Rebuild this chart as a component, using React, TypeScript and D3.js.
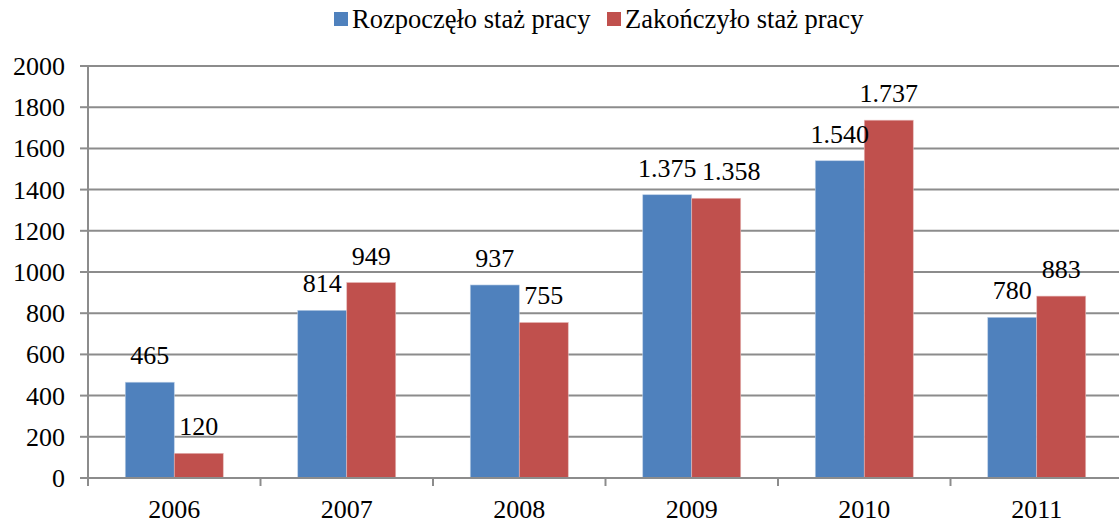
import React from 'react'
import * as d3 from 'd3'

const years = ['2006', '2007', '2008', '2009', '2010', '2011']
const started = [465, 814, 937, 1375, 1540, 780]
const finished = [120, 949, 755, 1358, 1737, 883]
const seriesNames = ['Rozpoczęło staż pracy', 'Zakończyło staż pracy']
const yTicks = [0, 200, 400, 600, 800, 1000, 1200, 1400, 1600, 1800, 2000]

const colors = ['#4F81BD', '#C0504D']
const edges = ['#b9cde5', '#e6b9b8']
const FONT = 'Liberation Serif'
const FS = 26
const GRID = '#8c8c8c'

export default function App() {
  const width = 1119
  const height = 523

  const left = 88
  const right = 1123
  const top = 66
  const bottom = 478

  const x = d3.scaleBand<string>()
    .domain(years)
    .range([left, right])
    .paddingInner(0.432)
    .paddingOuter(0.216)

  const x1 = d3.scaleBand<number>()
    .domain([0, 1])
    .range([0, x.bandwidth()])

  const y = d3.scaleLinear().domain([0, 2000]).range([bottom, top])

  const series = [started, finished]
  const step = x.step()

  // Polish thousands separator is a dot
  const fmt = (v: number) => v >= 1000 ? d3.format(',')(v).replace(',', '.') : String(v)
  // one label was nudged right in the original to avoid overlap
  const nudge: Record<string, number> = { '1-3': 15 }

  const legendX = [334, 607]

  return (
    <div style={{ position: 'absolute', top: 0, left: 0, background: '#fff' }}>
      <svg width={width} height={height} style={{ display: 'block' }}>
        {/* gridlines */}
        {yTicks.filter(d => d > 0).map(d => (
          <line key={`g${d}`} x1={left} x2={width} y1={y(d)} y2={y(d)} stroke={GRID} strokeWidth={2} />
        ))}

        {/* bars */}
        {series.map((vals, si) => vals.map((v, i) => (
          <rect
            key={`b${si}-${i}`}
            x={(x(years[i]) ?? 0) + (x1(si) ?? 0)}
            y={y(v)}
            width={x1.bandwidth()}
            height={bottom - y(v)}
            fill={colors[si]}
            stroke={edges[si]}
            strokeWidth={0.6}
          />
        )))}

        {/* y axis */}
        <line x1={left} x2={left} y1={top} y2={bottom} stroke={GRID} strokeWidth={2} />
        {yTicks.map(d => (
          <g key={`y${d}`}>
            <line x1={left - 8} x2={left} y1={y(d)} y2={y(d)} stroke={GRID} strokeWidth={2} />
            <text x={65} y={y(d) + 9} textAnchor="end" fontFamily={FONT} fontSize={FS} fill="#000">{d}</text>
          </g>
        ))}

        {/* x axis */}
        <line x1={left} x2={width} y1={bottom} y2={bottom} stroke={GRID} strokeWidth={2} />
        {d3.range(years.length + 1).map(i => (
          <line key={`xt${i}`} x1={left + i * step} x2={left + i * step} y1={bottom} y2={bottom + 8} stroke={GRID} strokeWidth={2} />
        ))}
        {years.map(d => (
          <text key={`x${d}`} x={(x(d) ?? 0) + x.bandwidth() / 2} y={518} textAnchor="middle" fontFamily={FONT} fontSize={FS} fill="#000">{d}</text>
        ))}

        {/* value labels */}
        {series.map((vals, si) => vals.map((v, i) => (
          <text
            key={`l${si}-${i}`}
            x={(x(years[i]) ?? 0) + (x1(si) ?? 0) + x1.bandwidth() / 2 + (nudge[`${si}-${i}`] ?? 0)}
            y={y(v) - 18}
            textAnchor="middle"
            fontFamily={FONT}
            fontSize={FS}
            fill="#000"
          >{fmt(v)}</text>
        )))}

        {/* legend */}
        {seriesNames.map((name, si) => (
          <g key={name} transform={`translate(${legendX[si]},0)`}>
            <rect x={0} y={12} width={14} height={14} fill={colors[si]} />
            <text x={18} y={28} fontFamily={FONT} fontSize={26.5} fill="#000">{name}</text>
          </g>
        ))}
      </svg>
    </div>
  )
}
